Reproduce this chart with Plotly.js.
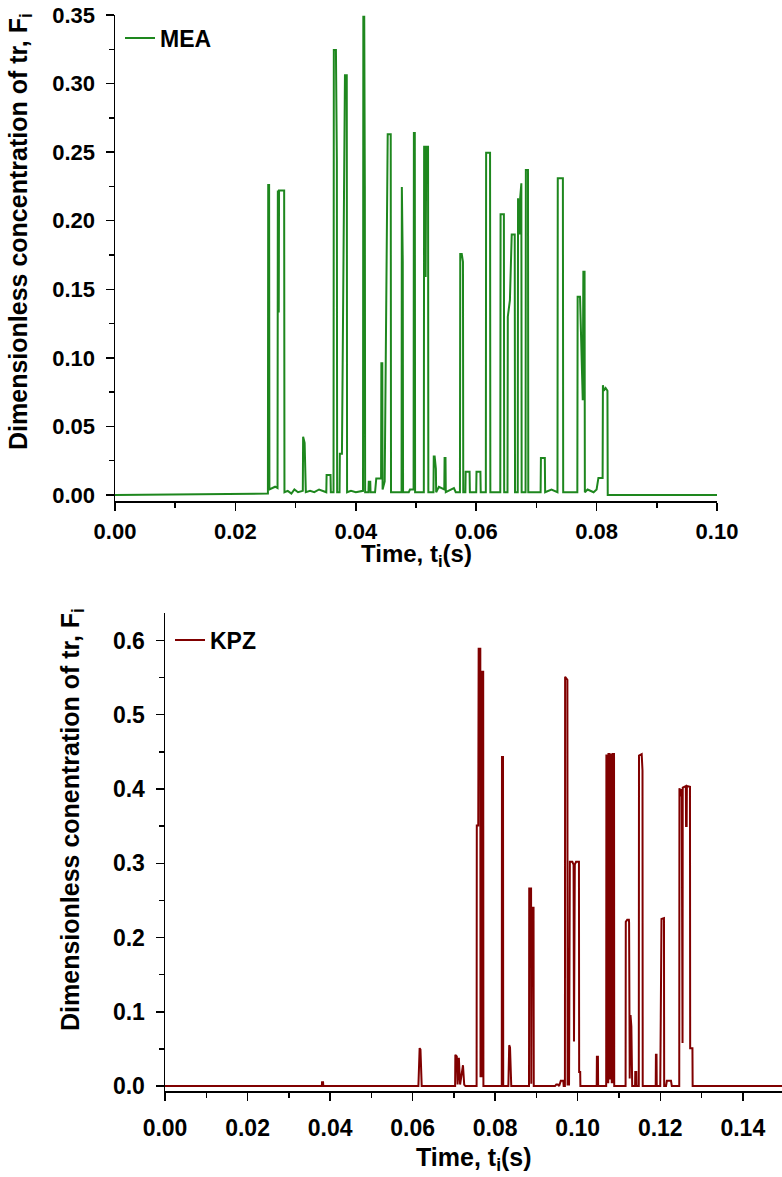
<!DOCTYPE html>
<html>
<head>
<meta charset="utf-8">
<script src="https://cdn.plot.ly/plotly-3.0.1.min.js"></script>
<style>html,body{margin:0;padding:0;background:#fff;}#chart{width:782px;height:1177px;}</style>
</head>
<body>
<div id="chart"></div>
<script>
// ---------- MEA (top panel) ----------
const MEA_time = [
  0, 0.0254,
  0.02545, 0.0256, 0.02565, 0.0262, 0.0266, 0.0270,
  0.02705, 0.0272, 0.02725, 0.0281, 0.02815, 0.0287, 0.0293, 0.0298, 0.0304, 0.0312,
  0.03125, 0.0315, 0.0317, 0.0324, 0.0331, 0.0339, 0.0346, 0.0351,
  0.03515, 0.0358, 0.03585, 0.0363,
  0.03635, 0.0367, 0.03685, 0.0369, 0.0373, 0.03735, 0.0377, 0.0381, 0.0382, 0.0385, 0.03855, 0.0392, 0.0400, 0.0412,
  0.04125, 0.0414, 0.0415, 0.04155, 0.0421, 0.04215, 0.0424, 0.04245, 0.0432, 0.0434, 0.0442, 0.04425, 0.0444, 0.04445, 0.0448,
  0.0453, 0.0458, 0.04585, 0.0476, 0.04765, 0.0478, 0.04785, 0.0488, 0.0490, 0.0496,
  0.04965, 0.0498, 0.04985, 0.0513, 0.05135, 0.0515, 0.0516, 0.0517, 0.0520, 0.05205, 0.0529,
  0.05295, 0.0531, 0.0533, 0.05335, 0.0538, 0.0547, 0.05475, 0.0549, 0.05495, 0.0563, 0.0566, 0.0573,
  0.05735, 0.0576, 0.0578, 0.05785, 0.0582, 0.05825, 0.0589, 0.05895, 0.0600, 0.06005, 0.0607, 0.06075, 0.0616,
  0.06165, 0.0623, 0.06235, 0.0640, 0.06405, 0.0646, 0.06465, 0.0652, 0.06525, 0.0656, 0.0659, 0.0664, 0.06645, 0.0669,
  0.06695, 0.0672, 0.0673, 0.0675, 0.06755, 0.0682, 0.06825, 0.0686, 0.06865, 0.0707,
  0.07075, 0.0714, 0.07145, 0.0725, 0.0735, 0.07355, 0.0744, 0.07445, 0.0768,
  0.07685, 0.07725, 0.0775, 0.0777, 0.0778, 0.0780, 0.07805, 0.0785, 0.0795, 0.0800, 0.0803, 0.0810,
  0.08105, 0.0812, 0.0815, 0.0818, 0.08185, 0.1
];
const MEA_F = [
  0, 0.001,
  0.226, 0.226, 0.004, 0.005, 0.006, 0.005,
  0.222, 0.133, 0.222, 0.222, 0.002, 0.003, 0.001, 0.004, 0.002, 0.003,
  0.0425, 0.038, 0.002, 0.003, 0.002, 0.004, 0.003, 0.002,
  0.0146, 0.0146, 0.002, 0.002,
  0.3245, 0.3245, 0.244, 0.002, 0.002, 0.030, 0.030, 0.25, 0.306, 0.306, 0.002, 0.003, 0.002, 0.003,
  0.3488, 0.3488, 0.225, 0.002, 0.002, 0.0097, 0.0097, 0.002, 0.002, 0.012, 0.012, 0.096, 0.096, 0.004, 0.01,
  0.263, 0.263, 0.002, 0.002, 0.2245, 0.17, 0.002, 0.002, 0.004, 0.004,
  0.264, 0.264, 0.002, 0.002, 0.254, 0.254, 0.159, 0.254, 0.254, 0.002, 0.002,
  0.028, 0.028, 0.019, 0.002, 0.006, 0.004, 0.027, 0.027, 0.002, 0.005, 0.002, 0.002,
  0.1757, 0.1757, 0.17, 0.002, 0.002, 0.017, 0.017, 0.002, 0.002, 0.017, 0.017, 0.002, 0.002,
  0.2496, 0.2496, 0.002, 0.002, 0.2047, 0.2047, 0.002, 0.002, 0.13, 0.142, 0.19, 0.19, 0.002, 0.002,
  0.2163, 0.19, 0.2163, 0.2273, 0.002, 0.002, 0.237, 0.237, 0.002, 0.002,
  0.027, 0.027, 0.002, 0.004, 0.002, 0.231, 0.231, 0.002, 0.002,
  0.1446, 0.1446, 0.099, 0.069, 0.1628, 0.1628, 0.002, 0.004, 0.002, 0.004, 0.0124, 0.0124,
  0.080, 0.076, 0.078, 0.076, 0, 0
];

// ---------- KPZ (bottom panel) ----------
const KPZ_time = [
  0, 0.0380, 0.03805, 0.0383, 0.03835,
  0.0614, 0.0617, 0.0619, 0.0622,
  0.0703, 0.07035, 0.0707, 0.0709, 0.0712, 0.0715, 0.0722, 0.0725, 0.0728,
  0.0755, 0.07555, 0.0759, 0.0760, 0.0764, 0.07645, 0.0768, 0.07685, 0.0771, 0.07715,
  0.0816, 0.08165, 0.0819, 0.08195,
  0.0832, 0.0834, 0.0836, 0.0838, 0.0839,
  0.0882, 0.08825, 0.0887, 0.08875, 0.0889, 0.0893, 0.08935,
  0.0945, 0.0948, 0.0952, 0.0955, 0.0959, 0.0965, 0.0966,
  0.0969, 0.09695, 0.0975, 0.09755, 0.0979, 0.09795, 0.0981, 0.0987, 0.0990, 0.0991, 0.0993, 0.0996, 0.1003, 0.10035, 0.1006, 0.10065,
  0.1046, 0.10465, 0.1049, 0.10495,
  0.1069, 0.10695, 0.1072, 0.10725, 0.1074, 0.10745, 0.1077, 0.10775, 0.1079, 0.10795, 0.1082, 0.10825, 0.1084, 0.10845, 0.1088, 0.10885,
  0.1116, 0.11165, 0.1120, 0.1124, 0.11245, 0.1126, 0.1128, 0.1130, 0.1132, 0.1139, 0.11395, 0.1142, 0.11425,
  0.1148, 0.11485, 0.1155, 0.1157, 0.11575,
  0.1189, 0.11895, 0.1191, 0.11915,
  0.1200, 0.1203, 0.1209, 0.12095,
  0.1214, 0.1216, 0.1226, 0.1228,
  0.1246, 0.12465, 0.1250, 0.1252, 0.12525, 0.1254, 0.12545, 0.1262, 0.12625, 0.1264, 0.12645, 0.1272, 0.12725, 0.1278, 0.12785,
  0.15
];
const KPZ_F = [
  0, 0, 0.005, 0.005, 0,
  0, 0.051, 0.049, 0,
  0, 0.042, 0.040, 0.002, 0.038, 0.002, 0.028, 0.002, 0,
  0, 0.351, 0.351, 0.589, 0.589, 0.013, 0.013, 0.558, 0.558, 0,
  0, 0.443, 0.443, 0,
  0, 0.055, 0.052, 0.03, 0,
  0, 0.266, 0.266, 0.003, 0.240, 0.240, 0,
  0, 0.002, 0.002, 0, 0.007, 0.007, 0,
  0, 0.551, 0.547, 0.002, 0.002, 0.253, 0.302, 0.302, 0.298, 0.06, 0.298, 0.302, 0.302, 0.019, 0.019, 0,
  0, 0.0395, 0.0395, 0,
  0, 0.445, 0.445, 0.005, 0.005, 0.447, 0.447, 0.01, 0.01, 0.446, 0.446, 0.005, 0.005, 0.447, 0.447, 0,
  0, 0.221, 0.224, 0.224, 0.22, 0.01, 0.0955, 0.08, 0, 0, 0.019, 0.019, 0,
  0, 0.445, 0.447, 0.425, 0,
  0, 0.042, 0.042, 0,
  0, 0.225, 0.226, 0,
  0, 0.007, 0.007, 0,
  0, 0.401, 0.39, 0.40, 0.058, 0.058, 0.402, 0.404, 0.35, 0.35, 0.404, 0.403, 0.051, 0.051, 0,
  0
];

const seriesNames = ['MEA', 'KPZ'];
const xTitle = 'Time, t<sub>i</sub>(s)';
const yTitleTop = 'Dimensionless concentration of tr, F<sub>i</sub>';
const yTitleBottom = 'Dimensionless conentration of tr, F<sub>i</sub>';

const FONT = 'Liberation Sans, Arial, sans-serif';
const W = 782, H = 1177;
const px = v => v / W, py = v => 1 - v / H;

const axisCommon = {
  showline: true, linecolor: '#000', linewidth: 1.5, mirror: false,
  showgrid: false, zeroline: false,
  ticks: 'outside', ticklen: 8, tickwidth: 1.5, tickcolor: '#000',
  tickfont: {family: FONT, size: 22, color: '#000', weight: 700},
  fixedrange: true
};

const traces = [
  {x: MEA_time, y: MEA_F, type: 'scatter', mode: 'lines', name: seriesNames[0],
   line: {color: 'rgb(30,135,30)', width: 2}, xaxis: 'x', yaxis: 'y', legend: 'legend'},
  {x: KPZ_time, y: KPZ_F, type: 'scatter', mode: 'lines', name: seriesNames[1],
   line: {color: 'rgb(128,0,0)', width: 2}, xaxis: 'x2', yaxis: 'y2', legend: 'legend2'}
];

const layout = {
  width: W, height: H,
  margin: {l: 0, r: 0, t: 0, b: 0},
  paper_bgcolor: '#fff', plot_bgcolor: 'rgba(0,0,0,0)',
  showlegend: true,
  xaxis: Object.assign({}, axisCommon, {
    domain: [px(115), px(717)], range: [0, 0.1], anchor: 'y',
    dtick: 0.02, tick0: 0, tickformat: '.2f', ticklabelstandoff: 2,
    minor: {dtick: 0.01, ticks: 'outside', ticklen: 5, tickwidth: 1.5, tickcolor: '#000'}
  }),
  yaxis: Object.assign({}, axisCommon, {
    domain: [py(501), py(15)], range: [-0.0044, 0.35], anchor: 'x',
    dtick: 0.05, tick0: 0, tickformat: '.2f', ticklabelstandoff: 6,
    minor: {dtick: 0.025, ticks: 'outside', ticklen: 5, tickwidth: 1.5, tickcolor: '#000'}
  }),
  xaxis2: Object.assign({}, axisCommon, {
    domain: [px(165), 1], range: [0, 0.1495], anchor: 'y2',
    dtick: 0.02, tick0: 0, tickformat: '.2f', ticklabelstandoff: 8,
    tickfont: {family: FONT, size: 23, color: '#000', weight: 700},
    minor: {dtick: 0.01, ticks: 'outside', ticklen: 5, tickwidth: 1.5, tickcolor: '#000'}
  }),
  yaxis2: Object.assign({}, axisCommon, {
    domain: [py(1091), py(613)], range: [-0.0067, 0.637], anchor: 'x2',
    dtick: 0.1, tick0: 0, tickformat: '.1f', ticklabelstandoff: 6,
    tickfont: {family: FONT, size: 23, color: '#000', weight: 700},
    minor: {dtick: 0.05, ticks: 'outside', ticklen: 5, tickwidth: 1.5, tickcolor: '#000'}
  }),
  legend: {x: px(120), y: py(38), xanchor: 'left', yanchor: 'middle', bgcolor: 'rgba(0,0,0,0)',
           font: {family: FONT, size: 23, color: '#000', weight: 700}},
  legend2: {x: px(170), y: py(640), xanchor: 'left', yanchor: 'middle', bgcolor: 'rgba(0,0,0,0)',
           font: {family: FONT, size: 23, color: '#000', weight: 700}},
  annotations: [
    {text: xTitle, xref: 'paper', yref: 'paper', x: px(416), y: py(555), xanchor: 'center', yanchor: 'middle',
     showarrow: false, font: {family: FONT, size: 24, color: '#000', weight: 700}},
    {text: yTitleTop, xref: 'paper', yref: 'paper', x: px(20), y: py(232), xanchor: 'center', yanchor: 'middle',
     textangle: -90, showarrow: false, font: {family: FONT, size: 25, color: '#000', weight: 700}},
    {text: xTitle, xref: 'paper', yref: 'paper', x: px(474), y: py(1159), xanchor: 'center', yanchor: 'middle',
     showarrow: false, font: {family: FONT, size: 25, color: '#000', weight: 700}},
    {text: yTitleBottom, xref: 'paper', yref: 'paper', x: px(72), y: py(820), xanchor: 'center', yanchor: 'middle',
     textangle: -90, showarrow: false, font: {family: FONT, size: 25, color: '#000', weight: 700}}
  ]
};

Plotly.newPlot('chart', traces, layout, {staticPlot: true, displayModeBar: false});
</script>
</body>
</html>
